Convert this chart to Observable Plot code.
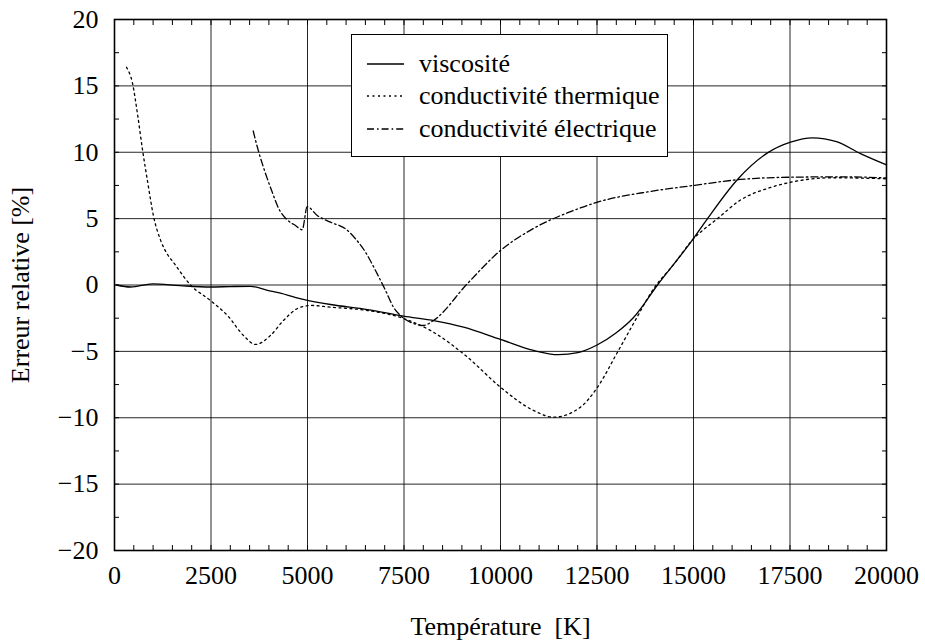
<!DOCTYPE html>
<html><head><meta charset="utf-8">
<script src="https://cdn.jsdelivr.net/npm/d3@7"></script>
<script src="https://cdn.jsdelivr.net/npm/@observablehq/plot@0.6"></script>
<style>
body{margin:0;background:#fff;}
#wrap{position:relative;width:925px;height:643px;font-family:'Liberation Serif','DejaVu Serif',Times,serif;color:#000;}
#wrap svg text{font-family:'Liberation Serif','DejaVu Serif',Times,serif !important;}
#legend{position:absolute;left:351px;top:34px;width:317px;height:123px;border:1.5px solid #000;background:#fff;box-sizing:border-box;}
.row{position:absolute;left:0;height:30px;width:100%;}
.row svg{position:absolute;left:15px;top:0;}
.row span{position:absolute;left:67px;top:0;line-height:30px;font-size:26px;white-space:nowrap;font-family:'Liberation Serif','DejaVu Serif',Times,serif;}
</style>
</head><body>
<div id="wrap"></div>
<script>
// ---- data ----
const xTicks = [0, 2500, 5000, 7500, 10000, 12500, 15000, 17500, 20000];
const yTicks = [-20, -15, -10, -5, 0, 5, 10, 15, 20];
const seriesNames = ["viscosité", "conductivité thermique", "conductivité électrique"];

const viscT = [50, 415, 985, 1700, 2487, 3000, 3523, 3964, 4300, 4700, 5000, 5596, 6555, 7487, 8300, 9042, 10000, 10855, 11503, 12000, 12513, 13000, 13446, 14067, 14974, 15363, 16140, 16917, 17513, 18083, 18705, 19326, 20000];
const viscV = [0, -0.15, 0.09, -0.05, -0.15, -0.12, -0.1, -0.4, -0.62, -0.95, -1.15, -1.47, -1.85, -2.35, -2.7, -3.18, -4.1, -4.93, -5.25, -5.1, -4.5, -3.6, -2.45, 0, 3.4, 5.0, 7.95, 9.95, 10.76, 11.09, 10.8, 9.9, 9.05];

const thermT = [311, 466, 600, 725, 868, 1010, 1190, 1373, 1528, 1969, 2487, 2927, 3342, 3653, 4041, 4378, 4741, 5078, 5596, 6555, 7487, 8264, 9145, 10000, 10855, 11373, 12073, 12513, 13031, 13446, 13964, 14500, 14974, 15622, 16218, 16943, 17513, 18627, 20000];
const thermV = [16.4, 15.2, 12.8, 10.2, 7.6, 5.2, 3.4, 2.3, 1.7, 0, -1.17, -2.3, -3.8, -4.48, -3.8, -2.67, -1.77, -1.54, -1.67, -1.92, -2.52, -3.56, -5.44, -7.7, -9.45, -9.96, -9.2, -7.7, -5.06, -2.9, -0.3, 1.6, 3.4, 5.0, 6.4, 7.3, 7.74, 8.08, 8.0];

const elecT = [3593, 3738, 3912, 4085, 4257, 4474, 4689, 4863, 4992, 5251, 5596, 5985, 6244, 6503, 6762, 7021, 7228, 7409, 7746, 8005, 8264, 9145, 10000, 10855, 11891, 12513, 13886, 15000, 16218, 17513, 18800, 20000];
const elecV = [11.6, 10.0, 8.4, 7.0, 5.74, 4.91, 4.48, 4.16, 5.9, 5.24, 4.73, 4.23, 3.48, 2.47, 1.09, -0.41, -1.67, -2.3, -2.9, -3.05, -2.67, 0.11, 2.6, 4.26, 5.61, 6.24, 7.05, 7.5, 7.95, 8.12, 8.15, 8.07];

const xMinor = d3.range(0, 20001, 500);
const yMinor = d3.range(-20, 20.01, 2.5);

const toRows = (T, V) => T.map((t, i) => ({T: t, v: V[i]}));
const visc = toRows(viscT, viscV);
const therm = toRows(thermT, thermV);
const elec = toRows(elecT, elecV);

const dashes = [null, "2,3.5", "7,3,1.6,3"];
const fmtY = d => d < 0 ? "\u2212" + (-d) : String(d);
const serif = "'Liberation Serif','DejaVu Serif',Times,serif";

const chart = Plot.plot({
  width: 925, height: 643,
  marginLeft: 114, marginRight: 39, marginTop: 19, marginBottom: 93,
  style: {fontFamily: serif, fontSize: "26px", color: "black", background: "white", overflow: "visible"},
  x: {domain: [0, 20000]},
  y: {domain: [-20, 20]},
  marks: [
    Plot.gridX(xTicks, {stroke: "black", strokeOpacity: 0.85, strokeWidth: 1}),
    Plot.gridY(yTicks, {stroke: "black", strokeOpacity: 0.85, strokeWidth: 1}),
    Plot.axisX(xMinor, {anchor: "bottom", tickSize: -5, fill: null, label: null, strokeWidth: 1}),
    Plot.axisX(xMinor, {anchor: "top", tickSize: -5, fill: null, label: null, strokeWidth: 1}),
    Plot.axisY(yMinor, {anchor: "left", tickSize: -5, fill: null, label: null, strokeWidth: 1}),
    Plot.axisY(yMinor, {anchor: "right", tickSize: -5, fill: null, label: null, strokeWidth: 1}),
    Plot.axisX(xTicks, {anchor: "bottom", tickSize: 0, tickPadding: 15, tickFormat: d => String(d), label: null, fontSize: 26}),
    Plot.axisY(yTicks, {anchor: "left", tickSize: 0, tickPadding: 16, tickFormat: fmtY, label: null, fontSize: 26}),
    Plot.line(visc, {x: "T", y: "v", stroke: "black", strokeWidth: 1.3, curve: "monotone-x"}),
    Plot.line(therm, {x: "T", y: "v", stroke: "black", strokeWidth: 1.3, strokeDasharray: dashes[1], curve: "monotone-x"}),
    Plot.line(elec, {x: "T", y: "v", stroke: "black", strokeWidth: 1.3, strokeDasharray: dashes[2], curve: "monotone-x"}),
    Plot.frame({stroke: "black", strokeWidth: 1.6}),
    Plot.text(["Température \u00a0[K]"], {frameAnchor: "bottom", dy: 76, fontSize: 26, textAnchor: "middle", lineAnchor: "middle"}),
    Plot.text(["Erreur relative [%]"], {frameAnchor: "left", dx: -94, rotate: -90, fontSize: 26, textAnchor: "middle", lineAnchor: "middle"})
  ]
});
const wrap = document.getElementById("wrap");
wrap.appendChild(chart);

// legend
const leg = document.createElement("div");
leg.id = "legend";
const rowTops = [14, 46, 79];
seriesNames.forEach((name, i) => {
  const row = document.createElement("div");
  row.className = "row";
  row.style.top = rowTops[i] + "px";
  const svg = d3.create("svg").attr("width", 38).attr("height", 30);
  const ln = svg.append("line").attr("x1", 0).attr("x2", 37).attr("y1", 15).attr("y2", 15)
    .attr("stroke", "black").attr("stroke-width", 1.3);
  if (dashes[i]) ln.attr("stroke-dasharray", dashes[i]);
  row.appendChild(svg.node());
  const sp = document.createElement("span");
  sp.textContent = name;
  row.appendChild(sp);
  leg.appendChild(row);
});
wrap.appendChild(leg);
</script>
</body></html>
